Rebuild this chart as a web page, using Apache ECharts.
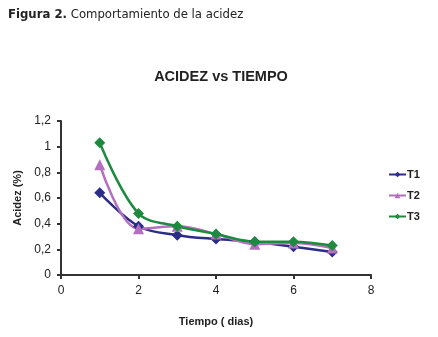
<!DOCTYPE html>
<html>
<head>
<meta charset="utf-8">
<script src="https://cdn.jsdelivr.net/npm/echarts@6/dist/echarts.min.js"></script>
<style>
  html, body { margin: 0; padding: 0; background: #fff; }
  #chart { width: 438px; height: 337px; }
</style>
</head>
<body>
<div id="chart"></div>
<script>
var dias = [1, 2, 3, 4, 5, 6, 7];
var t1 = [0.64, 0.38, 0.31, 0.28, 0.26, 0.22, 0.18];
var t2 = [0.86, 0.36, 0.38, 0.32, 0.24, 0.25, 0.21];
var t3 = [1.03, 0.48, 0.38, 0.32, 0.26, 0.26, 0.23];
var xTicks = [0, 2, 4, 6, 8];
var yTicks = [0, 0.2, 0.4, 0.6, 0.8, 1, 1.2];

function pares(v) {
    return dias.map(function (d, i) { return [d, v[i]]; });
}

var chart = echarts.init(document.getElementById('chart'));

var fuente = 'Liberation Sans, Arial, sans-serif';
var ejeColor = '#333';

function serie(nombre, datos, color, simbolo, tam) {
    return {
        name: nombre,
        type: 'line',
        smooth: 0.35,
        data: pares(datos),
        symbol: simbolo,
        symbolSize: tam,
        lineStyle: { color: color, width: 2.5 },
        itemStyle: { color: color }
    };
}

var option = {
    animation: false,
    textStyle: { fontFamily: fuente },
    title: [
        {
            text: '{b|Figura 2.} Comportamiento de la acidez',
            left: 3, top: 3,
            textStyle: {
                fontFamily: 'DejaVu Sans Condensed, Liberation Sans, Arial',
                fontSize: 13, fontWeight: 'normal', color: '#222',
                rich: { b: { fontWeight: 'bold', fontSize: 13, color: '#222',
                    fontFamily: 'DejaVu Sans Condensed, Liberation Sans, Arial' } }
            }
        },
        {
            text: 'ACIDEZ vs TIEMPO',
            left: 216, top: 64, textAlign: 'center',
            textStyle: { fontSize: 14.5, fontWeight: 'bold', color: '#222', fontFamily: fuente }
        }
    ],
    legend: {
        orient: 'vertical',
        left: 383, top: 164,
        itemWidth: 17, itemHeight: 7,
        itemGap: 10,
        textStyle: { fontSize: 11, fontWeight: 'bold', color: '#222', padding: [0, 0, 0, -4] },
        data: ['T1', 'T2', 'T3']
    },
    grid: { left: 61, right: 67, top: 121, bottom: 62 },
    xAxis: {
        type: 'value',
        min: 0, max: 8, interval: 2,
        name: 'Tiempo ( dias)',
        nameLocation: 'middle',
        nameGap: 41,
        nameTextStyle: { fontSize: 11, fontWeight: 'bold', color: '#222' },
        axisLine: { lineStyle: { color: ejeColor, width: 2 } },
        axisTick: { show: true, length: 4, lineStyle: { color: ejeColor, width: 2 } },
        axisLabel: { fontSize: 12, color: '#222', margin: 10,
            formatter: function (v) { return xTicks.indexOf(v) >= 0 ? String(v) : ''; } },
        splitLine: { show: false }
    },
    yAxis: {
        type: 'value',
        min: 0, max: 1.2, interval: 0.2,
        name: 'Acidez (%)',
        nameLocation: 'middle',
        nameGap: 32,
        nameTextStyle: { fontSize: 11, fontWeight: 'bold', color: '#222' },
        axisLine: { show: true, lineStyle: { color: ejeColor, width: 2 } },
        axisTick: { show: true, length: 4, lineStyle: { color: ejeColor, width: 2 } },
        axisLabel: { fontSize: 12, color: '#222', margin: 10,
            formatter: function (v) {
                var r = Math.round(v * 10) / 10;
                return yTicks.indexOf(r) >= 0 ? String(r).replace('.', ',') : '';
            } },
        splitLine: { show: false }
    },
    series: [
        serie('T1', t1, '#2b2d86', 'diamond', 11),
        serie('T2', t2, '#b46fbf', 'triangle', 11),
        serie('T3', t3, '#1e8a3f', 'diamond', 11)
    ]
};

if (option && typeof option === 'object') {
    chart.setOption(option);
}
</script>
</body>
</html>
